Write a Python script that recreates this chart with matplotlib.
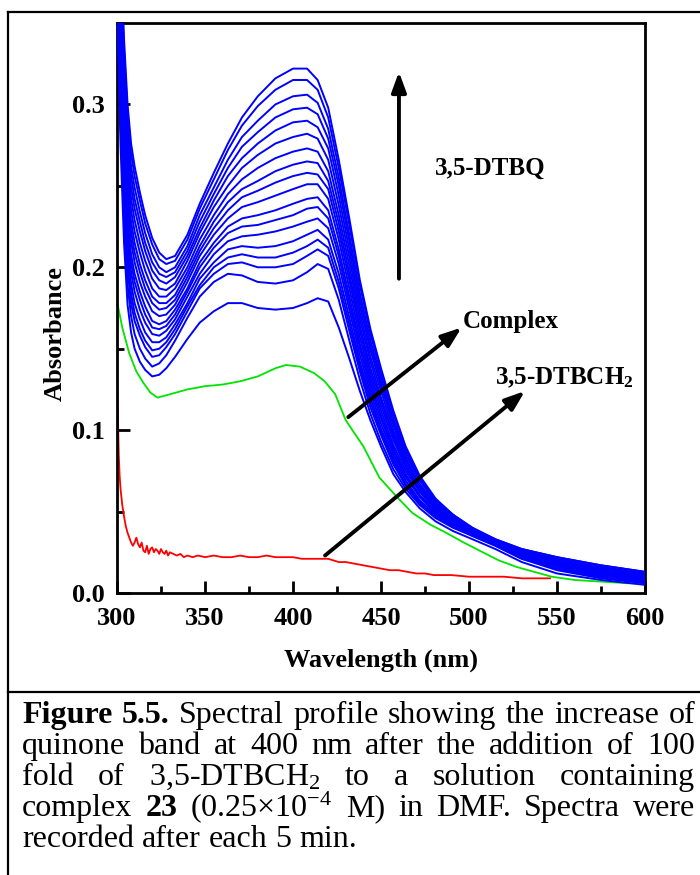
import numpy as np
import matplotlib
matplotlib.use("Agg")
import matplotlib.pyplot as plt
from matplotlib.lines import Line2D
from matplotlib.ticker import MultipleLocator, FormatStrFormatter

plt.rcParams['font.family'] = ['Liberation Serif', 'DejaVu Serif']
plt.rcParams['font.weight'] = 'bold'
plt.rcParams['mathtext.fontset'] = 'custom'
plt.rcParams['mathtext.rm'] = 'Liberation Serif:weight=normal'
plt.rcParams['mathtext.bf'] = 'Liberation Serif:weight=bold'
plt.rcParams['mathtext.it'] = 'Liberation Serif:style=italic:weight=normal'

# blue spectra: one row per wavelength, one column per scan (every 5 min)
blue_wl = [300, 302, 304, 306, 308, 310, 313, 316, 320, 324, 328, 333, 340, 347, 355, 363, 371, 380, 390,
           400, 408, 414, 420, 426, 432, 438, 444, 450, 457, 464, 472, 481, 491, 502, 515, 530, 550, 575, 600]
blue_abs = [
    [.360, .374, .380, .384, .388, .393, .398, .401, .407, .411, .415, .420, .426, .431, .436, .440, .446, .450],
    [.275, .289, .297, .303, .309, .316, .322, .327, .335, .341, .347, .354, .361, .368, .375, .381, .389, .395],
    [.215, .228, .237, .243, .249, .256, .263, .268, .276, .283, .289, .296, .304, .311, .319, .326, .334, .340],
    [.177, .189, .198, .203, .210, .217, .223, .229, .237, .243, .249, .257, .264, .272, .279, .286, .294, .300],
    [.160, .170, .178, .184, .190, .197, .203, .208, .216, .222, .228, .235, .242, .249, .256, .262, .270, .276],
    [.150, .159, .167, .172, .178, .185, .191, .196, .203, .209, .215, .222, .229, .236, .242, .249, .256, .262],
    [.142, .150, .158, .162, .168, .174, .180, .185, .191, .197, .202, .209, .215, .222, .228, .234, .241, .246],
    [.137, .144, .151, .155, .160, .166, .171, .176, .182, .187, .192, .198, .204, .210, .215, .221, .227, .232],
    [.133, .139, .145, .149, .154, .159, .163, .167, .173, .178, .182, .187, .193, .198, .203, .208, .214, .218],
    [.134, .141, .146, .150, .154, .158, .162, .165, .170, .174, .178, .182, .187, .192, .196, .200, .205, .209],
    [.138, .146, .151, .154, .157, .161, .164, .167, .171, .175, .178, .182, .186, .190, .194, .197, .202, .205],
    [.145, .155, .159, .162, .165, .168, .171, .174, .177, .180, .183, .187, .190, .194, .197, .200, .204, .207],
    [.156, .169, .173, .176, .178, .182, .185, .187, .191, .194, .197, .200, .204, .207, .210, .213, .217, .220],
    [.166, .182, .187, .189, .193, .196, .200, .203, .207, .210, .213, .217, .221, .224, .228, .232, .236, .239],
    [.173, .191, .196, .200, .203, .208, .212, .215, .220, .224, .228, .232, .237, .241, .245, .249, .254, .258],
    [.178, .196, .202, .206, .211, .216, .221, .225, .230, .235, .240, .245, .250, .256, .261, .266, .272, .276],
    [.178, .195, .203, .208, .213, .219, .225, .230, .237, .243, .248, .254, .261, .267, .274, .280, .287, .292],
    [.175, .191, .200, .206, .212, .220, .226, .232, .240, .247, .253, .261, .269, .276, .283, .290, .299, .305],
    [.174, .190, .200, .206, .213, .222, .229, .235, .244, .252, .259, .267, .276, .284, .292, .300, .309, .316],
    [.175, .192, .202, .209, .216, .225, .232, .239, .248, .256, .263, .271, .280, .289, .297, .305, .315, .322],
    [.178, .197, .207, .213, .220, .228, .236, .242, .251, .258, .265, .273, .282, .290, .298, .306, .315, .322],
    [.181, .202, .211, .217, .223, .230, .237, .243, .251, .257, .264, .271, .279, .286, .294, .301, .309, .315],
    [.179, .199, .207, .212, .217, .224, .230, .235, .242, .248, .253, .259, .266, .273, .279, .285, .292, .298],
    [.163, .180, .187, .191, .196, .202, .207, .211, .217, .222, .227, .232, .238, .244, .250, .255, .261, .266],
    [.144, .155, .161, .165, .169, .174, .178, .182, .187, .192, .196, .201, .206, .211, .216, .220, .226, .230],
    [.124, .131, .136, .139, .142, .146, .150, .153, .157, .161, .164, .168, .172, .176, .180, .184, .189, .192],
    [.106, .110, .114, .117, .120, .123, .126, .129, .132, .135, .138, .142, .145, .149, .152, .155, .159, .162],
    [.090, .093, .097, .099, .101, .104, .107, .109, .112, .115, .118, .120, .124, .127, .129, .132, .135, .138],
    [.073, .076, .079, .081, .083, .085, .087, .089, .091, .094, .096, .098, .100, .103, .105, .107, .110, .112],
    [.062, .064, .066, .067, .069, .071, .072, .073, .075, .077, .078, .080, .082, .083, .085, .087, .089, .090],
    [.052, .054, .055, .056, .057, .059, .060, .060, .062, .063, .064, .065, .066, .067, .069, .070, .071, .072],
    [.044, .046, .047, .048, .048, .049, .050, .050, .051, .052, .053, .053, .054, .055, .056, .056, .057, .058],
    [.038, .040, .041, .041, .041, .042, .042, .043, .043, .044, .044, .045, .045, .046, .046, .047, .048, .048],
    [.033, .035, .035, .036, .036, .036, .037, .037, .037, .037, .038, .038, .038, .039, .039, .039, .040, .040],
    [.027, .029, .029, .030, .030, .030, .030, .030, .031, .031, .031, .031, .032, .032, .032, .032, .033, .033],
    [.019, .021, .021, .022, .022, .023, .023, .023, .024, .024, .024, .025, .025, .025, .026, .026, .027, .027],
    [.012, .014, .015, .015, .015, .016, .016, .017, .017, .018, .018, .019, .019, .020, .020, .021, .022, .022],
    [.008, .009, .010, .010, .010, .011, .011, .012, .012, .013, .013, .014, .014, .015, .015, .016, .017, .017],
    [.005, .006, .007, .007, .007, .008, .008, .009, .009, .009, .010, .010, .011, .011, .012, .012, .013, .013],
]

# complex alone (green)
green_wl = [300, 303, 307, 311, 315, 319, 323, 330, 340, 350, 360, 370, 380, 390, 396, 404, 412, 418,
            424, 430, 440, 449, 459, 468, 478, 487, 497, 506, 517, 527, 537, 547, 560, 575, 590, 600]
green_abs = [0.179, 0.163, 0.147, 0.136, 0.129, 0.123, 0.120, 0.122, 0.125, 0.127, 0.128, 0.130, 0.133, 0.138,
             0.140, 0.139, 0.135, 0.130, 0.122, 0.106, 0.090, 0.071, 0.059, 0.049, 0.042, 0.037, 0.031, 0.026,
             0.020, 0.016, 0.013, 0.010, 0.008, 0.007, 0.006, 0.006]

# 3,5-DTBCH2 alone (red)
red_wl = [300, 300.5, 301, 301.5, 302, 303, 304, 305, 306, 307, 308, 309, 310, 311, 312, 313, 314, 315,
          316, 317, 318, 319, 320, 321, 322, 323, 324, 325, 326, 327, 328, 329, 330, 332, 334, 336, 338,
          340, 343, 346, 350, 355, 360, 365, 370, 375, 380, 385, 390, 395, 400, 405, 410, 415, 420, 423,
          426, 430, 435, 440, 445, 450, 455, 460, 465, 470, 475, 480, 490, 500, 510, 520, 530, 540, 546]
red_abs = [0.129, 0.110, 0.085, 0.072, 0.064,
           0.054, 0.047, 0.041, 0.037, 0.034, 0.031, 0.029, 0.031, 0.034, 0.030,
           0.028, 0.031, 0.026, 0.025, 0.029, 0.024, 0.027, 0.028, 0.025, 0.027,
           0.026, 0.024, 0.027, 0.025, 0.024, 0.026, 0.023, 0.025,
           0.024, 0.023, 0.024, 0.022, 0.023,
           0.022, 0.023, 0.022,
           0.023, 0.022, 0.022, 0.023, 0.022, 0.022, 0.023, 0.022, 0.022, 0.022, 0.021, 0.021, 0.021, 0.021,
           0.020, 0.019, 0.019,
           0.018, 0.017, 0.016, 0.015, 0.014, 0.014, 0.013, 0.012, 0.012, 0.011,
           0.011, 0.010, 0.010, 0.010, 0.009, 0.009, 0.009]

caption_lines = [
    [("Figure", "bold"), ("5.5.", "bold"), ("Spectral", "normal"), ("profile", "normal"),
     ("showing", "normal"), ("the", "normal"), ("increase", "normal"), ("of", "normal")],
    [("quinone", "normal"), ("band", "normal"), ("at", "normal"), ("400", "normal"), ("nm", "normal"),
     ("after", "normal"), ("the", "normal"), ("addition", "normal"), ("of", "normal"), ("100", "normal")],
    [("fold", "normal"), ("of", "normal"), ("3,5-DTBCH$_2$", "normal"), ("to", "normal"), ("a", "normal"),
     ("solution", "normal"), ("containing", "normal")],
    [("complex", "normal"), ("23", "bold"), ("(0.25\u00d710$^{-4}$", "normal"), ("M)", "normal"),
     ("in", "normal"), ("DMF.", "normal"), ("Spectra", "normal"), ("were", "normal")],
    [("recorded", "normal"), ("after", "normal"), ("each", "normal"), ("5", "normal"), ("min.", "normal")],
]

W, H = 700, 875
fig = plt.figure(figsize=(7, 8.75), dpi=100)
ax = fig.add_axes([117 / W, 1 - 593 / H, 528 / W, 570 / H])

blue = np.array(blue_abs)
for j in range(blue.shape[1]):
    ax.plot(blue_wl, blue[:, j], color='#0000ff', lw=1.4, zorder=3)
ax.plot(green_wl, green_abs, color='#00e400', lw=1.3, zorder=2)
ax.plot(red_wl, red_abs, color='#ff0000', lw=1.3, zorder=2)

ax.set_xlim(300, 600)
ax.set_ylim(0, 0.35)
ax.xaxis.set_major_locator(MultipleLocator(50))
ax.xaxis.set_minor_locator(MultipleLocator(25))
ax.yaxis.set_major_locator(MultipleLocator(0.1))
ax.yaxis.set_minor_locator(MultipleLocator(0.05))
ax.yaxis.set_major_formatter(FormatStrFormatter('%.1f'))
ax.tick_params(which='both', direction='in', width=2, top=False, right=False)
ax.tick_params(which='major', length=9, labelsize=19)
ax.tick_params(axis='x', which='major', pad=10)
ax.tick_params(axis='y', which='major', pad=9)
ax.tick_params(which='minor', length=5)
for s in ax.spines.values():
    s.set_linewidth(2)

# arrows and labels
head = '-|>,head_length=0.6,head_width=0.22'
ax.annotate('', xy=(460.2, 0.320), xytext=(460.2, 0.193), zorder=6,
            arrowprops=dict(arrowstyle=head, lw=2.8, color='k', mutation_scale=20, shrinkA=0, shrinkB=0))
ax.annotate('', xy=(495.8, 0.163), xytext=(431.4, 0.108), zorder=6,
            arrowprops=dict(arrowstyle=head, lw=2.8, color='k', mutation_scale=20, shrinkA=0, shrinkB=0))
ax.annotate('', xy=(531.8, 0.124), xytext=(418.2, 0.023), zorder=6,
            arrowprops=dict(arrowstyle=head, lw=2.8, color='k', mutation_scale=20, shrinkA=0, shrinkB=0))
ax.text(480.7, 0.261, '3,5-DTBQ', ha='left', va='center', fontsize=18)
ax.text(496.6, 0.167, 'Complex', ha='left', va='center', fontsize=18)
ax.text(514.8, 0.132, '3,5-DTBCH$_{\\mathbf{2}}$', ha='left', va='center', fontsize=18)

fig.text(381 / W, 1 - 660 / H, 'Wavelength (nm)', ha='center', va='center', fontsize=19)
fig.text(55 / W, 1 - 334 / H, 'Absorbance', ha='center', va='center', rotation=90, fontsize=19)

# frame around figure and caption
for xs, ys in [([8, W], [12, 12]), ([8, W], [692, 692]), ([8, 8], [12, H])]:
    fig.add_artist(Line2D([x / W for x in xs], [1 - y / H for y in ys],
                          transform=fig.transFigure, color='k', lw=1.6))

# justified caption
fig.canvas.draw()
renderer = fig.canvas.get_renderer()
x_left, x_right = 22, 695
baselines = [723, 754, 785, 816, 847]
for i, words in enumerate(caption_lines):
    texts = [fig.text(0, 1 - baselines[i] / H, w, fontsize=23, fontweight=wt, va='baseline')
             for w, wt in words]
    widths = [t.get_window_extent(renderer).width for t in texts]
    if i < len(caption_lines) - 1:
        gap = (x_right - x_left - sum(widths)) / (len(texts) - 1)
    else:
        gap = 0.25 * 23 * 100 / 72
    x = x_left
    for t, w in zip(texts, widths):
        t.set_x(x / W)
        x += w + gap

fig.savefig('out.png', dpi=100)
